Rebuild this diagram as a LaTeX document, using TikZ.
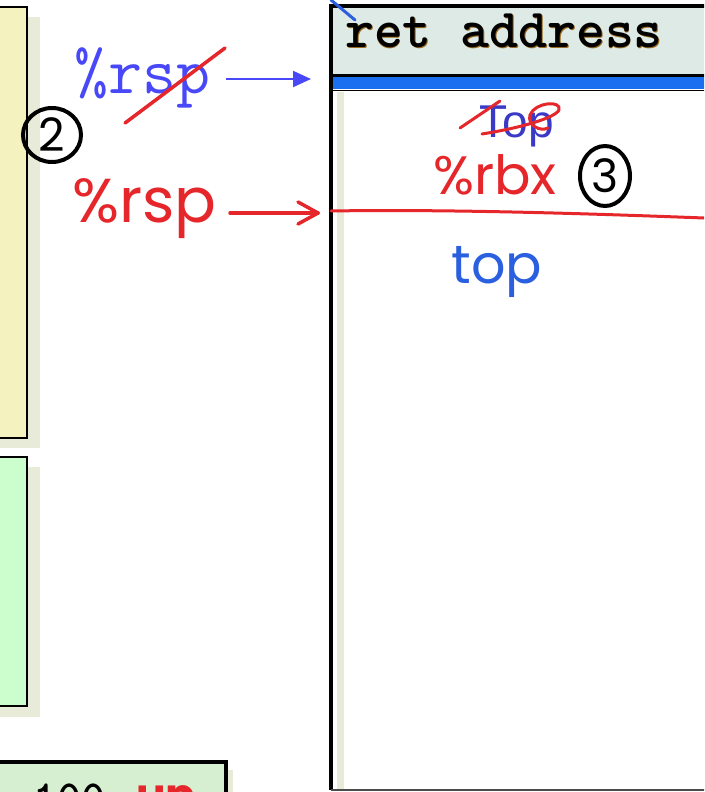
\documentclass[tikz,border=0pt]{standalone}
\usepackage{fontspec}
\setmainfont{Liberation Sans}
\newfontfamily\handfont{Poppins}
\usetikzlibrary{arrows.meta,shapes.geometric}
\definecolor{yelfill}{HTML}{F4F2BF}
\definecolor{grnfill}{HTML}{CCFDCC}
\definecolor{botfill}{HTML}{D5EFD0}
\definecolor{shadowc}{HTML}{E8EBD8}
\definecolor{hdrfill}{HTML}{DEEAE5}
\definecolor{bandblue}{HTML}{1A6EF0}
\definecolor{inkred}{HTML}{E5262A}
\definecolor{inkblue}{HTML}{2A5FE0}
\definecolor{typeblue}{HTML}{4848F8}
\definecolor{brownsh}{HTML}{9A6A20}
\tikzset{
  frame/.style={draw=black, line width=2.5pt},
  redink/.style={draw=inkred, line width=3.5pt, line cap=round, line join=round},
  blueink/.style={draw=inkblue, line width=3.5pt, line cap=round, line join=round},
  circnum/.style={draw=black, line width=4pt, ellipse, inner sep=0pt, font=\handfont\fontsize{46}{46}\selectfont},
}
\begin{document}
\begin{tikzpicture}[x=1pt,y=-1pt]
\useasboundingbox (0,0) rectangle (704,792);
\clip (0,0) rectangle (704,792);
% left yellow box
\fill[shadowc] (-20,17) rectangle (40,448);
\filldraw[fill=yelfill, frame] (-20,7) rectangle (27,438);
% left green box
\fill[shadowc] (-20,467) rectangle (40,717);
\filldraw[fill=grnfill, frame] (-20,457) rectangle (27,706);
% bottom box
\fill[shadowc] (-20,770) rectangle (233,800);
\filldraw[fill=botfill, draw=black, line width=4pt] (-20,762) rectangle (226,820);
\node[anchor=base west, inner sep=0pt, font=\ttfamily\bfseries\fontsize{46}{46}\selectfont] (hundred) at (33,812) {100};
\node[anchor=base west, inner sep=0pt, text=inkred, font=\handfont\bfseries\fontsize{44}{44}\selectfont] (upnote) at (136,810) {up};
% right stack box
\fill[hdrfill] (333,8) rectangle (720,74);
\fill[bandblue] (333,77) rectangle (720,89);
\draw[black, line width=3pt] (333,75.5) -- (720,75.5);
\draw[black, line width=1pt] (333,90) -- (720,90);
\fill[shadowc] (337,92) rectangle (344,789);
\draw[draw=black, line width=4pt] (720,6) -- (331,6) -- (331,790);
\draw[draw=black!70, line width=2pt] (331,790) -- (720,790);
\node[anchor=base west, inner sep=0pt, text=brownsh, font=\ttfamily\bfseries\fontsize{55}{55}\selectfont] (retsh) at (345.8,48.8) {ret address};
\node[anchor=base west, inner sep=0pt, font=\ttfamily\bfseries\fontsize{55}{55}\selectfont] (ret) at (345,48) {ret address};
\coordinate (bluetick1) at (331,0);
\coordinate (bluetick2) at (355,20);
\draw[blueink, line width=3pt] (bluetick1) -- (bluetick2);
% typed blue %rsp and arrow
\node[anchor=base west, inner sep=0pt, text=typeblue, font=\ttfamily\fontsize{66}{66}\selectfont] (rspold) at (74,93) {\%rsp};
\coordinate (oldtail) at (226,79);
\coordinate (oldtip) at (311,79);
\draw[typeblue, line width=2pt, -{Triangle[length=18pt,width=16pt]}] (oldtail) -- (oldtip);
\coordinate (strikeA) at (125,123);
\coordinate (strikeB) at (225,48);
\draw[redink] (strikeA) -- (strikeB);
% circled 2
\node[circnum, minimum width=58pt, minimum height=54pt] (two) at (52,135) {2};
% red handwritten %rsp and arrow
\node[anchor=base west, inner sep=0pt, text=inkred, font=\handfont\fontsize{62}{62}\selectfont] (rspnew) at (72,222) {\%rsp};
\coordinate (newtail) at (230,213);
\coordinate (newtip) at (318,213);
\draw[redink] (newtail) -- (newtip);
\draw[redink] (298,202) -- (newtip) -- (298,224);
\coordinate (lineL) at (331,211);
\coordinate (lineR) at (704,218);
\draw[redink, line width=3pt] (lineL) .. controls (450,209) and (600,214) .. (lineR);
% crossed-out Top
\node[anchor=base, inner sep=0pt, text=typeblue!80!black, font=\fontsize{46}{46}\selectfont] (oldtop) at (517,137) {Top};
\draw[redink, line width=3pt] (460,128) -- (500,101);
\draw[redink, line width=3pt] (482,134) .. controls (520,128) and (555,118) .. (559,110) .. controls (562,100) and (535,102) .. (530,115) .. controls (527,125) and (540,132) .. (548,128);
% red %rbx
\node[anchor=base, inner sep=0pt, text=inkred, font=\handfont\fontsize{54}{54}\selectfont] (rbx) at (495,194) {\%rbx};
\node[circnum, minimum width=50pt, minimum height=60pt] (three) at (605,176) {3};
% blue handwritten top
\node[anchor=base, inner sep=0pt, text=inkblue, font=\handfont\fontsize{54}{54}\selectfont] (newtop) at (497,283) {top};
\end{tikzpicture}
\end{document}
